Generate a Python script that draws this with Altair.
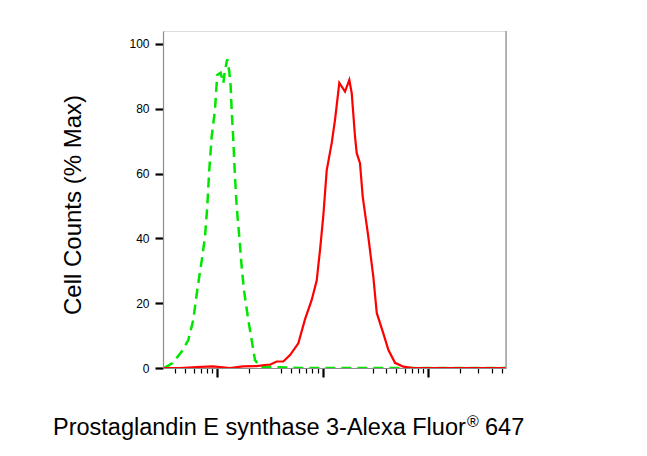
import altair as alt
import pandas as pd

# Isotype control (green dashed) - fluorescence intensity vs % max
green_x = [315, 380, 462, 535, 596, 650, 716, 770, 809, 845, 891, 957, 994, 1007,
           1084, 1148, 1191, 1252, 1308, 1349, 1378, 1428, 1482, 1538, 1627, 1714,
           1803, 1980, 2133, 2291, 2557, 6120, 54300, 548000]
green_y = [0, 1.5, 5, 8.6, 14.8, 24, 33, 40.5, 49.8, 61, 71.4, 79.6, 87.9, 90.4,
           91.1, 87.9, 92, 95.3, 91.5, 86.8, 79.6, 70.4, 59, 49.8, 40.5, 31.3,
           24, 14.8, 8.6, 2.5, 0.4, 0, 0, 0]

# Stained sample (red solid)
red_x = [315, 446, 642, 916, 1328, 1764, 2378, 2958, 3179, 3680, 4250, 4920, 5900,
         6823, 7900, 8810, 9470, 10180, 10960, 12220, 13130, 14430, 16340, 17950,
         18920, 20330, 21100, 22660, 24040, 26240, 27170, 30340, 32660, 37690,
         42070, 48640, 58340, 72070, 548000]
red_y = [0, 0, 0.3, 0.5, 0, 0.5, 0.6, 1, 1, 2, 2, 4, 7.6, 15, 21, 27, 36.4, 47, 61,
         69.4, 76.5, 88, 85.3, 88.9, 84.8, 71.4, 66.3, 63.2, 52.9, 44, 40.5, 28,
         17, 10.7, 5.6, 1.6, 0.4, 0, 0]

x_major = [1000, 10000, 100000]
x_minor = [400, 500, 600, 700, 800, 900,
           2000, 4000, 5000, 6000, 7000, 8000, 9000,
           30000, 40000, 50000, 60000, 70000, 80000, 90000,
           200000, 300000, 400000, 500000]
y_ticks = list(range(0, 101, 5))

x_title = "Prostaglandin E synthase 3-Alexa Fluor"
y_title = "Cell Counts (% Max)"

green_df = pd.DataFrame({"x": green_x, "y": green_y, "i": range(len(green_x))})
red_df = pd.DataFrame({"x": red_x, "y": red_y, "i": range(len(red_x))})

W, H = 343, 337
FONT = "Liberation Sans"

xscale = alt.Scale(type="log", domain=[308, 548000], nice=False)
yscale = alt.Scale(domain=[0, 104], nice=False, zero=False)

major_test = "datum.value == 1000 || datum.value == 10000 || datum.value == 100000"

xaxis = alt.Axis(
    values=x_major + x_minor, labels=False, title=None, grid=False,
    domainColor="#8c8c8c", domainWidth=1.2, tickColor="black",
    tickSize={"condition": {"test": major_test, "value": 9}, "value": 5},
    tickWidth={"condition": {"test": major_test, "value": 2.2}, "value": 1.2},
)
yaxis = alt.Axis(
    values=y_ticks, title=None, grid=False,
    labelExpr="datum.value % 20 == 0 ? datum.label : ''",
    labelFont=FONT, labelFontSize=12, labelColor="black", labelPadding=6,
    domainColor="#8c8c8c", domainWidth=1.2, tickColor="black",
    tickSize={"condition": {"test": "datum.value % 20 == 0", "value": 8}, "value": 4},
    tickWidth={"condition": {"test": "datum.value % 20 == 0", "value": 2.2}, "value": 1.2},
)

green = alt.Chart(green_df).mark_line(
    color="#00e600", strokeWidth=2.5, strokeDash=[10, 6], clip=True
).encode(
    x=alt.X("x:Q", scale=xscale, axis=xaxis),
    y=alt.Y("y:Q", scale=yscale, axis=yaxis),
    order="i:Q",
)

red = alt.Chart(red_df).mark_line(color="#ff0000", strokeWidth=2.2, clip=True).encode(
    x=alt.X("x:Q", scale=xscale),
    y=alt.Y("y:Q", scale=yscale),
    order="i:Q",
)

border = alt.Chart(pd.DataFrame({"a": [0]})).mark_rule(color="#8c8c8c", strokeWidth=1.2).encode(
    x=alt.value(W), y=alt.value(0), y2=alt.value(H)
)

t = pd.DataFrame({"a": [0]})
xtitle = alt.Chart(t).mark_text(
    text=x_title, font=FONT, fontSize=23.5, align="left", baseline="alphabetic", color="black"
).encode(x=alt.value(-110), y=alt.value(404))
reg = alt.Chart(t).mark_text(
    text="®", font=FONT, fontSize=16, align="left", baseline="alphabetic", color="black"
).encode(x=alt.value(304), y=alt.value(396))
num = alt.Chart(t).mark_text(
    text="647", font=FONT, fontSize=23.5, align="left", baseline="alphabetic", color="black"
).encode(x=alt.value(322), y=alt.value(404))
ytitle = alt.Chart(t).mark_text(
    text=y_title, font=FONT, fontSize=24, align="center", baseline="middle", angle=270,
    color="black"
).encode(x=alt.value(-89), y=alt.value(174))

chart = alt.layer(green, red, border, xtitle, reg, num, ytitle).properties(
    width=W, height=H,
    autosize=alt.AutoSizeParams(type="none"),
    padding={"left": 155, "top": 23, "right": 130, "bottom": 80},
).configure_view(stroke=None).configure(background="white")

chart.save("out.html", embed_options={"renderer": "svg", "actions": False})
